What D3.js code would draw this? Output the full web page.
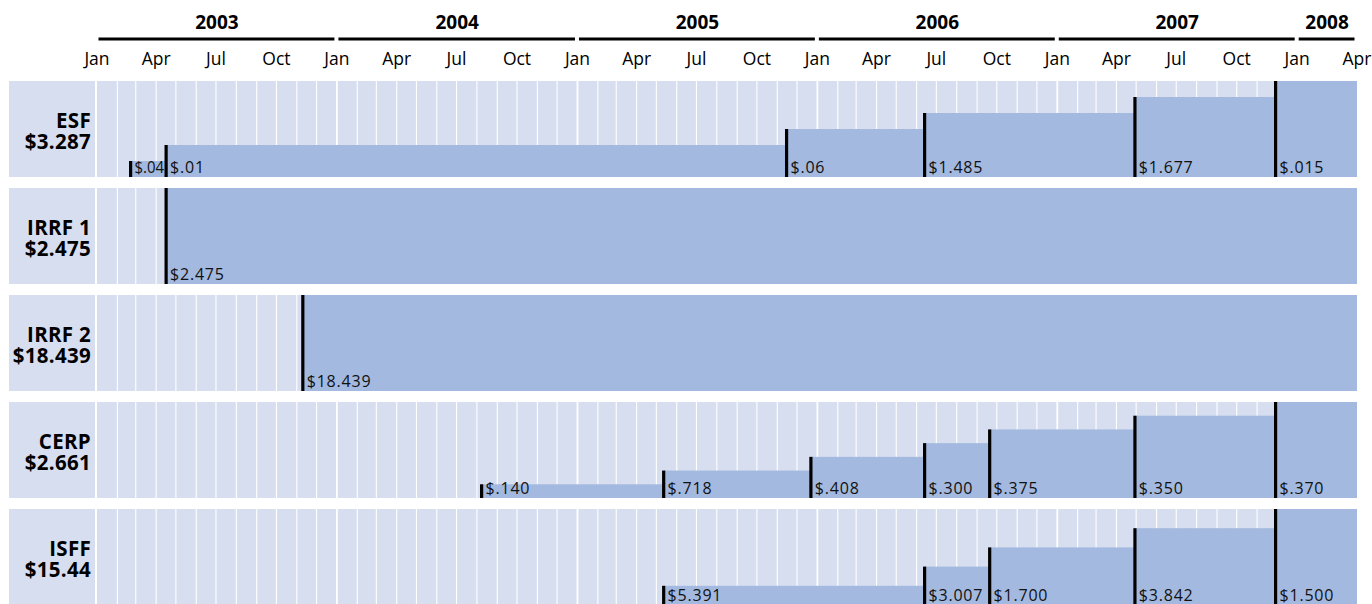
<!DOCTYPE html>
<meta charset="utf-8">
<style>
body { margin: 0; background: #fff; }
svg { display: block; font-family: "Open Sans", sans-serif; }
.year { font-size: 19px; font-weight: 700; text-anchor: middle; }
.month { font-size: 17.5px; text-anchor: middle; }
.rowname { font-size: 20.5px; font-weight: 700; text-anchor: end; letter-spacing: 0.3px; }
.amount { font-size: 16px; letter-spacing: 0.8px; }
</style>
<body>
<script src="https://d3js.org/d3.v7.min.js"></script>
<script>

// funds, top to bottom
var fundNames = ["ESF", "IRRF 1", "IRRF 2", "CERP", "ISFF"];
var fundTotals = ["3.287", "2.475", "18.439", "2.661", "15.44"];

// appropriations ($ billions) and the date each one arrived
var esfDates = ["2003-02-21", "2003-04-16", "2005-11-15", "2006-06-13", "2007-04-29", "2007-11-29"];
var esfAmounts = ["0.04", "0.01", "0.06", "1.485", "1.677", "0.015"];

var irrf1Dates = ["2003-04-16"];
var irrf1Amounts = ["2.475"];

var irrf2Dates = ["2003-11-10"];
var irrf2Amounts = ["18.439"];

var cerpDates = ["2004-08-08", "2005-05-12", "2005-12-22", "2006-06-13", "2006-09-20", "2007-04-29", "2007-11-29"];
var cerpAmounts = ["0.140", "0.718", "0.408", "0.300", "0.375", "0.350", "0.370"];

var isffDates = ["2005-05-12", "2006-06-13", "2006-09-20", "2007-04-29", "2007-11-29"];
var isffAmounts = ["5.391", "3.007", "1.700", "3.842", "1.500"];

var years = [2003, 2004, 2005, 2006, 2007, 2008];
var monthLabels = ["Jan", "Apr", "Jul", "Oct"];

var width = 1372,
    height = 604;

var rowTop = 81,
    rowHeight = 96,
    rowStep = 107,
    panelLeft = 9,
    panelRight = 95;

var parseDate = d3.timeParse("%Y-%m-%d");

var funds = fundNames.map(function(name, i) {
  var dates = [esfDates, irrf1Dates, irrf2Dates, cerpDates, isffDates][i];
  var amounts = [esfAmounts, irrf1Amounts, irrf2Amounts, cerpAmounts, isffAmounts][i];
  return {
    name: name,
    total: fundTotals[i],
    steps: dates.map(function(d, j) {
      return { date: parseDate(d), amount: amounts[j], index: j, count: dates.length };
    })
  };
});

var start = new Date(2003, 0, 1),
    end = new Date(2008, 3, 1);

var x = d3.scaleTime()
    .domain([start, end])
    .range([97, 1357]);

var y = d3.scaleBand()
    .domain(fundNames)
    .range([rowTop, rowTop + rowStep * fundNames.length - (rowStep - rowHeight)])
    .paddingInner((rowStep - rowHeight) / rowStep)
    .paddingOuter(0)
    .align(0);

var svg = d3.select("body")
  .append("svg")
    .attr("width", width)
    .attr("height", height);

function money(s) {
  return "$" + s.replace(/^0/, "");
}

// ---- header: years with a bar under each, then quarter months
var yearG = svg.append("g");

yearG.selectAll("text")
  .data(years)
  .enter().append("text")
    .attr("class", "year")
    .attr("x", function(d) {
      var a = x(new Date(d, 0, 1)), b = x(d3.min([new Date(d + 1, 0, 1), end]));
      return (a + b) / 2;
    })
    .attr("y", 29)
    .text(function(d) { return d; });

yearG.selectAll("rect")
  .data(years)
  .enter().append("rect")
    .attr("x", function(d) { return x(new Date(d, 0, 1)) + 1.5; })
    .attr("width", function(d) {
      var a = x(new Date(d, 0, 1)), b = x(d3.min([new Date(d + 1, 0, 1), end]));
      return b - a - 4;
    })
    .attr("y", 37.5)
    .attr("height", 3)
    .attr("fill", "#000");

var quarters = d3.timeMonth.every(3).range(start, d3.timeDay.offset(end, 1));

svg.append("g").selectAll("text")
  .data(quarters)
  .enter().append("text")
    .attr("class", "month")
    .attr("x", function(d) { return x(d); })
    .attr("y", 65)
    .text(function(d) { return monthLabels[d.getMonth() / 3]; });

// ---- rows
var months = d3.timeMonth.range(d3.timeMonth.offset(start, 1), end);

var row = svg.append("g").selectAll("g")
  .data(funds)
  .enter().append("g")
    .attr("transform", function(d) { return "translate(0," + y(d.name) + ")"; });

row.append("rect")
    .attr("x", panelLeft)
    .attr("width", panelRight - panelLeft)
    .attr("height", y.bandwidth())
    .attr("fill", "#d6deef");

row.append("rect")
    .attr("x", x(start))
    .attr("width", x(end) - x(start))
    .attr("height", y.bandwidth())
    .attr("fill", "#d6deef");

row.append("g").selectAll("line")
  .data(months)
  .enter().append("line")
    .attr("x1", function(d) { return x(d); })
    .attr("x2", function(d) { return x(d); })
    .attr("y1", 0)
    .attr("y2", y.bandwidth())
    .attr("stroke", "#fff")
    .attr("stroke-width", function(d) { return d.getMonth() === 0 ? 1.8 : 1.1; });

row.append("text")
    .attr("class", "rowname")
    .attr("x", 91)
    .attr("y", 47)
    .text(function(d) { return d.name; });

row.append("text")
    .attr("class", "rowname")
    .attr("x", 91)
    .attr("y", 68)
    .text(function(d) { return "$" + d.total; });

function level(s) {
  return y.bandwidth() * (s.index + 1) / s.count;
}

row.append("g").selectAll("rect")
  .data(function(d) { return d.steps; })
  .enter().append("rect")
    .attr("x", function(s) { return x(s.date); })
    .attr("width", function(s) { return x(end) - x(s.date); })
    .attr("y", function(s) { return y.bandwidth() - level(s); })
    .attr("height", function(s) { return level(s); })
    .attr("fill", "#a3b9df");

row.append("g").selectAll("rect")
  .data(function(d) { return d.steps; })
  .enter().append("rect")
    .attr("x", function(s) { return x(s.date) - 1.5; })
    .attr("width", 3.2)
    .attr("y", function(s) { return y.bandwidth() - level(s); })
    .attr("height", function(s) { return level(s); })
    .attr("fill", "#000");

// amount labels; a label squeezed between two close ticks loses its tracking first
row.each(function(d) {
  var g = d3.select(this);
  d.steps.forEach(function(s, j) {
    var tx = x(s.date) + 4;
    var t = g.append("text")
        .attr("class", "amount")
        .attr("x", tx)
        .attr("y", y.bandwidth() - 4.5)
        .attr("fill", "#111")
        .text(money(s.amount));
    var next = d.steps[j + 1];
    if (next) {
      var room = x(next.date) - 2 - tx;
      if (t.node().getComputedTextLength() > room) {
        t.style("letter-spacing", "0px");
        if (t.node().getComputedTextLength() > room) {
          t.attr("textLength", room).attr("lengthAdjust", "spacingAndGlyphs");
        }
      }
    }
  });
});

</script>
</body>
